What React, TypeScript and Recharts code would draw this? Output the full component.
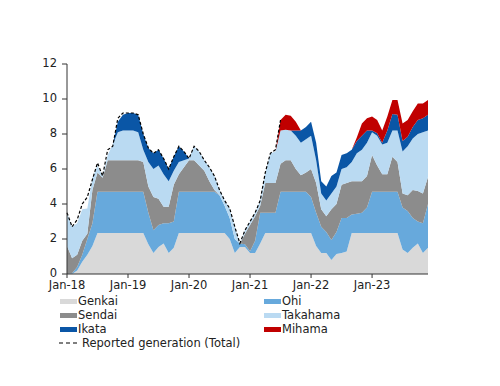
import React from "react";
import { ComposedChart, Area, Line, XAxis, YAxis } from "recharts";

// Monthly, Jan-18 .. Dec-23 (72 points)
const genkai = [
  0, 0, 0.2, 0.7, 1.1, 1.6, 2.35, 2.35, 2.35, 2.35, 2.35, 2.35,
  2.35, 2.35, 2.35, 2.35, 1.7, 1.2, 1.55, 1.75, 1.2, 1.5, 2.35, 2.35,
  2.35, 2.35, 2.35, 2.35, 2.35, 2.35, 2.35, 2.35, 2.0, 1.2, 1.55, 1.55,
  1.2, 1.2, 1.75, 2.35, 2.35, 2.35, 2.35, 2.35, 2.35, 2.35, 2.35, 2.35,
  2.35, 1.6, 1.2, 1.2, 0.8, 1.15, 1.2, 1.28, 2.35, 2.35, 2.35, 2.35,
  2.35, 2.35, 2.35, 2.35, 2.35, 2.35, 1.4, 1.2, 1.5, 1.75, 1.2, 1.5,
];
const ohi = [
  0, 0.05, 0.2, 0.4, 0.9, 1.3, 2.35, 2.35, 2.35, 2.35, 2.35, 2.35,
  2.35, 2.35, 2.35, 2.35, 1.8, 1.3, 1.25, 1.15, 1.7, 1.5, 2.35, 2.35,
  2.35, 2.35, 2.35, 2.35, 2.35, 2.35, 2.15, 1.55, 1.2, 0.8, 0.2, 0.15,
  0.1, 0.7, 1.75, 1.15, 1.15, 1.15, 2.35, 2.35, 2.35, 2.35, 2.35, 2.35,
  2.05, 1.9, 1.5, 1.2, 1.15, 1.25, 2.0, 1.92, 1.05, 1.1, 1.15, 1.45,
  2.35, 2.35, 2.35, 2.35, 2.35, 2.35, 2.4, 2.4, 1.7, 1.25, 1.7, 2.5,
];
const sendai = [
  1.6, 0.85, 0.7, 0.8, 0.3, 1.9, 1.1, 0.8, 1.8, 1.8, 1.8, 1.8,
  1.8, 1.8, 1.8, 1.7, 1.5, 1.9, 1.5, 0.95, 0.95, 2.1, 1.0, 1.4,
  1.8, 1.8, 1.5, 1.2, 0.6, 0.1, 0, 0, 0, 0, 0, 0.6,
  1.5, 1.4, 0.4, 1.7, 1.7, 1.7, 1.6, 1.8, 1.8, 1.3, 0.95, 1.1,
  1.6, 1.7, 1.0, 0.9, 1.75, 1.6, 1.9, 2.0, 1.9, 1.85, 1.8, 1.8,
  2.1, 1.5, 1.0, 1.0, 2.0, 1.7, 0.8, 0.9, 1.6, 1.75, 1.7, 1.55,
];
const takahama = [
  1.9, 1.8, 1.8, 1.8, 1.45, 0.7, 0.4, 0.1, 0.3, 0.9, 1.6, 1.7,
  1.7, 1.7, 1.6, 0.7, 1.4, 1.6, 1.9, 1.85, 1.45, 0.8, 0.7, 0.4,
  0.1, 0.8, 0.8, 0.6, 0.8, 0.8, 0.3, 0.3, 0.55, 0.7, 0, 0.2,
  0.2, 0.2, 0.3, 0.6, 1.7, 1.8, 1.9, 1.75, 1.7, 1.9, 1.85, 1.9,
  1.9, 1.3, 0.9, 0.9, 0.9, 1.0, 0.9, 0.9, 1.1, 1.6, 1.8, 1.9,
  1.3, 1.7, 1.7, 1.8, 1.5, 1.8, 2.4, 2.8, 2.95, 3.25, 3.5, 2.65,
];
const ikata = [
  0, 0, 0, 0, 0, 0, 0, 0, 0, 0, 0.6, 0.9,
  1.0, 1.0, 1.0, 0.9, 0.8, 0.9, 0.9, 0.9, 0.7, 0.8, 0.9, 0.5,
  0, 0, 0, 0, 0, 0, 0, 0, 0, 0, 0, 0,
  0, 0, 0, 0, 0, 0, 0, 0, 0, 0.3, 0.7, 0.7,
  0.8, 1.0, 0.7, 0.8, 1.0, 0.8, 0.8, 0.8, 0.7, 0.7, 0.8, 0.7,
  0.1, 0.15, 0.1, 0.7, 0.95, 0.9, 0.6, 0.55, 0.65, 0.8, 0.8, 0.9,
];
const mihama = [
  0, 0, 0, 0, 0, 0, 0, 0, 0, 0, 0, 0,
  0, 0, 0, 0, 0, 0, 0, 0, 0, 0, 0, 0,
  0, 0, 0, 0, 0, 0, 0, 0, 0, 0, 0, 0,
  0, 0, 0, 0, 0, 0, 0.6, 0.85, 0.85, 0.5, 0, 0,
  0, 0, 0, 0, 0, 0, 0, 0, 0, 0.2, 0.7, 0.7,
  0.8, 0.75, 0.7, 0.8, 0.8, 0.85, 1.0, 0.95, 0.9, 0.95, 0.85, 0.85,
];
const reported: (number | null)[] = [
  3.5, 2.7, 3.1, 4.0, 4.4, 5.4, 6.35, 5.6, 7.1, 7.3, 8.9, 9.2,
  9.2, 9.2, 9.1, 8.0, 7.2, 6.9, 7.1, 6.6, 6.0, 6.7, 7.3, 7.0,
  6.6, 7.3, 7.0, 6.5, 6.1, 5.6, 4.8, 4.2, 3.75, 2.7, 1.75, 2.5,
  3.0, 3.5, 4.2, 5.8, 6.9, 7.1, 8.8, null, null, null, null, null,
  null, null, null, null, null, null, null, null, null, null, null, null,
  null, null, null, null, null, null, null, null, null, null, null, null,
];

const tickLabels = ["Jan-18", "Jan-19", "Jan-20", "Jan-21", "Jan-22", "Jan-23"];
const tickIdx = [0, 12, 24, 36, 48, 60];

const COLORS = {
  genkai: "#d9d9d9",
  ohi: "#67a9dc",
  sendai: "#8c8c8c",
  takahama: "#badaf2",
  ikata: "#0a56a6",
  mihama: "#c00000",
};

const data = genkai.map((g, i) => ({
  idx: i,
  genkai: g,
  ohi: ohi[i],
  sendai: sendai[i],
  takahama: takahama[i],
  ikata: ikata[i],
  mihama: mihama[i],
  reported: reported[i],
}));

const FONT = "'DejaVu Sans', Verdana, sans-serif";
const textStyle: React.CSSProperties = {
  position: "absolute",
  fontFamily: FONT,
  fontSize: 11.5,
  color: "#222",
  lineHeight: "14px",
  whiteSpace: "nowrap",
};

function Swatch({ x, y, color, label }: { x: number; y: number; color: string; label: string }) {
  return (
    <>
      <div style={{ position: "absolute", left: x, top: y - 2.5, width: 17, height: 5, background: color }} />
      <div style={{ ...textStyle, left: x + 18, top: y - 7 }}>{label}</div>
    </>
  );
}

export default function App() {
  return (
    <div style={{ position: "absolute", left: 0, top: 0, width: 500, height: 386, background: "#fff" }}>
      <ComposedChart
        width={500}
        height={386}
        data={data}
        margin={{ top: 64, right: 72, bottom: 82, left: 0 }}
      >
        <XAxis
          type="number"
          dataKey="idx"
          domain={[0, 71]}
          ticks={tickIdx}
          tickFormatter={(v: number) => tickLabels[tickIdx.indexOf(v)]}
          height={30}
          tickSize={4}
          tickMargin={3}
          stroke="#333"
          tick={{ fill: "#222", fontSize: 11.5, fontFamily: FONT }}
          interval={0}
        />
        <YAxis
          type="number"
          domain={[0, 12]}
          ticks={[0, 2, 4, 6, 8, 10, 12]}
          width={67}
          tickSize={5}
          tickMargin={5}
          stroke="#333"
          tick={{ fill: "#222", fontSize: 11.5, fontFamily: FONT, dy: -1 }}
          interval={0}
        />
        <Area type="linear" dataKey="genkai" stackId="a" stroke="none" fill={COLORS.genkai} fillOpacity={1} isAnimationActive={false} />
        <Area type="linear" dataKey="ohi" stackId="a" stroke="none" fill={COLORS.ohi} fillOpacity={1} isAnimationActive={false} />
        <Area type="linear" dataKey="sendai" stackId="a" stroke="none" fill={COLORS.sendai} fillOpacity={1} isAnimationActive={false} />
        <Area type="linear" dataKey="takahama" stackId="a" stroke="none" fill={COLORS.takahama} fillOpacity={1} isAnimationActive={false} />
        <Area type="linear" dataKey="ikata" stackId="a" stroke="none" fill={COLORS.ikata} fillOpacity={1} isAnimationActive={false} />
        <Area type="linear" dataKey="mihama" stackId="a" stroke="none" fill={COLORS.mihama} fillOpacity={1} isAnimationActive={false} />
        <Line
          type="linear"
          dataKey="reported"
          stroke="#000"
          strokeWidth={1.2}
          strokeDasharray="3 2"
          dot={false}
          activeDot={false}
          isAnimationActive={false}
        />
      </ComposedChart>
      <Swatch x={60} y={301} color={COLORS.genkai} label="Genkai" />
      <Swatch x={60} y={315} color={COLORS.sendai} label="Sendai" />
      <Swatch x={60} y={329} color={COLORS.ikata} label="Ikata" />
      <Swatch x={264} y={301} color={COLORS.ohi} label="Ohi" />
      <Swatch x={264} y={315} color={COLORS.takahama} label="Takahama" />
      <Swatch x={264} y={329} color={COLORS.mihama} label="Mihama" />
      <svg style={{ position: "absolute", left: 59, top: 341 }} width={18} height={4}>
        <line x1={0} y1={2} x2={18} y2={2} stroke="#000" strokeWidth={1.2} strokeDasharray="4 3" />
      </svg>
      <div style={{ ...textStyle, left: 82, top: 336 }}>Reported generation (Total)</div>
    </div>
  );
}
